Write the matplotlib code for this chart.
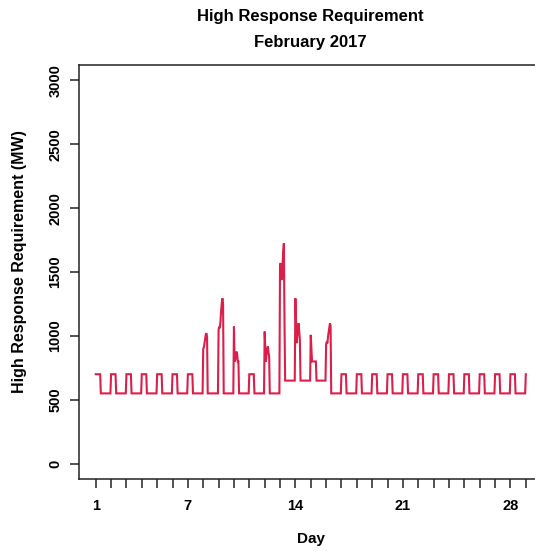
import matplotlib
matplotlib.use("Agg")
import matplotlib.pyplot as plt

plt.rcParams['font.family'] = ['Liberation Sans', 'DejaVu Sans']
plt.rcParams['font.weight'] = 'bold'

LINE_COLOR = '#DC1E4B'

# hourly requirement for each day of February 2017 (MW)
days = list(range(1, 29))
# level held from 08:00 to midnight
offpeak_mw = [550, 550, 550, 550, 550, 550, 550, 550, 550, 550, 550, 550,
              650, 650, 650, 550, 550, 550, 550, 550, 550, 550, 550, 550,
              550, 550, 550, 550]
# standard early-morning block, 00:00-07:00
morning_mw = [700, 700, 700, 700, 700, 700, 700, 700]
# days with elevated early-morning requirement
event_mw = {
    8: [900, 910, 945, 980, 1010, 1021, 990],
    9: [1050, 1073, 1060, 1120, 1200, 1260, 1294, 1250],
    10: [1073, 800, 810, 850, 877, 860, 800, 800],
    12: [1034, 900, 800, 860, 900, 917, 870, 840],
    13: [1555, 1570, 1480, 1437, 1560, 1660, 1724, 1100],
    14: [1294, 1120, 943, 1000, 1060, 1099, 1030, 969],
    15: [1008, 900, 800, 800, 800, 800, 800, 800, 800],
    16: [930, 955, 941, 995, 1030, 1070, 1099, 1080],
}
last_value = 700  # 1 March 00:00

x, y = [], []
for d, low in zip(days, offpeak_mw):
    block = event_mw.get(d, morning_mw)
    vals = block + [low] * (24 - len(block))
    for h, v in enumerate(vals):
        x.append(d + h / 24)
        y.append(v)
x.append(days[-1] + 1)
y.append(last_value)

fig = plt.figure(figsize=(5.35, 5.52), dpi=100)
ax = fig.add_axes([78.5 / 535, 73 / 552, 464.5 / 535, 414 / 552])
ax.plot(x, y, color=LINE_COLOR, lw=1.5, solid_joinstyle='miter')

ax.set_xlim(-0.12, 30.12)
ax.set_ylim(-120, 3120)

day_ticks = list(range(1, 30))
ax.set_xticks(day_ticks)
ax.set_xticklabels([str(d) if d in (1, 7, 14, 21, 28) else '' for d in day_ticks],
                   fontsize=10.5, fontweight='bold')
ax.set_yticks([0, 500, 1000, 1500, 2000, 2500, 3000])
ax.set_yticklabels(['0', '500', '1000', '1500', '2000', '2500', '3000'],
                   fontsize=10.5, fontweight='bold', rotation=90, va='center')
ax.tick_params(axis='both', direction='out', length=6.5, width=1.1, color='#222222')
ax.tick_params(axis='x', pad=8)
ax.tick_params(axis='y', pad=5)

for side in ('left', 'bottom', 'top'):
    ax.spines[side].set_linewidth(1.1)
    ax.spines[side].set_color('#222222')
ax.spines['right'].set_visible(False)

cx = (78.5 + 543) / 2 / 535
fig.text(cx, 1 - 16 / 552, 'High Response Requirement', ha='center', va='center',
         fontsize=12, fontweight='bold')
fig.text(cx, 1 - 42 / 552, 'February 2017', ha='center', va='center',
         fontsize=12, fontweight='bold')
fig.text(cx, 1 - 539 / 552, 'Day', ha='center', va='center',
         fontsize=11, fontweight='bold')
fig.text(20 / 535, 1 - 262 / 552, 'High Response Requirement (MW)', ha='center',
         va='center', rotation=90, fontsize=11.5, fontweight='bold')

fig.savefig('out.png', dpi=100)
